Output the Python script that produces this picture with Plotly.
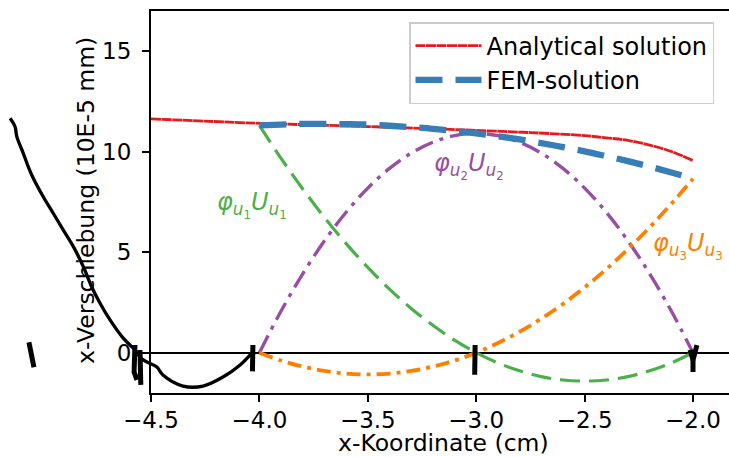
import plotly.graph_objects as go

# ---------------- data ----------------
x_analytic = [-4.5, -4.25, -4.0, -3.75, -3.5, -3.25, -3.0, -2.75, -2.5, -2.4, -2.3, -2.2, -2.1, -2.0]
y_analytic = [11.62, 11.51, 11.40, 11.32, 11.24, 11.15, 11.05, 10.94, 10.79, 10.68, 10.55, 10.32, 10.00, 9.55]

x_fem = [-4.0, -3.9, -3.8, -3.7, -3.6, -3.5, -3.4, -3.3, -3.2, -3.1, -3.0,
         -2.9, -2.8, -2.7, -2.6, -2.5, -2.4, -2.3, -2.2, -2.1, -2.0]
y_fem = [11.30, 11.34, 11.37, 11.37, 11.36, 11.34, 11.28, 11.21, 11.13, 11.02, 10.90,
         10.76, 10.60, 10.42, 10.22, 10.01, 9.77, 9.52, 9.25, 8.96, 8.65]
y_phi1 = [11.30, 9.66, 8.14, 6.72, 5.42, 4.24, 3.16, 2.20, 1.36, 0.62, 0.0,
          -0.51, -0.90, -1.19, -1.36, -1.41, -1.36, -1.19, -0.90, -0.51, 0.0]
y_phi2 = [0.0, 2.07, 3.92, 5.56, 6.98, 8.18, 9.16, 9.92, 10.46, 10.79, 10.90,
          10.79, 10.46, 9.92, 9.16, 8.18, 6.98, 5.56, 3.92, 2.07, 0.0]
y_phi3 = [0.0, -0.39, -0.69, -0.91, -1.04, -1.08, -1.04, -0.91, -0.69, -0.39, 0.0,
          0.48, 1.04, 1.69, 2.42, 3.24, 4.15, 5.15, 6.23, 7.40, 8.65]

# hand-drawn black pen stroke (in the chart's data units, extends past the axes)
sketch_x = [-5.150, -5.127, -5.119, -5.089, -5.066, -5.043, -4.997, -4.951, -4.905, -4.858,
            -4.812, -4.774, -4.735, -4.689, -4.628, -4.582, -4.536, -4.474, -4.445, -4.352,
            -4.260, -4.168, -4.089, -4.034]
sketch_y = [11.65, 11.23, 10.74, 9.91, 9.24, 8.67, 7.75, 6.93, 6.10, 5.27,
            4.27, 3.28, 2.46, 1.63, 0.72, 0.22, -0.36, -0.70, -1.11, -1.66,
            -1.66, -1.21, -0.61, -0.01]
# short pen marks
marks_x = [-4.574, -4.578, -4.565, None, -4.551, -4.547, None,
           -4.030, -4.032, None, -3.005, -3.007, None,
           -2.014, -2.000, -1.982, None, -2.000, -2.000, None, -5.063, -5.040]
marks_y = [0.38, -0.95, -1.35, None, 0.13, -1.60, None,
           0.38, -0.93, None, 0.38, -1.10, None,
           0.14, -0.37, 0.38, None, -0.37, -0.96, None, 0.52, -0.72]

x_ticks = [-4.5, -4.0, -3.5, -3.0, -2.5, -2.0]
y_ticks = [0, 5, 10, 15]

labels = [
    ("<i>φ</i><sub><i>u</i><sub>1</sub></sub><i>U</i><sub><i>u</i><sub>1</sub></sub>", -4.034, 7.34, "#4daf4a"),
    ("<i>φ</i><sub><i>u</i><sub>2</sub></sub><i>U</i><sub><i>u</i><sub>2</sub></sub>", -3.033, 9.28, "#984ea3"),
    ("<i>φ</i><sub><i>u</i><sub>3</sub></sub><i>U</i><sub><i>u</i><sub>3</sub></sub>", -2.023, 5.30, "#ff7f00"),
]

# ---------------- layout geometry ----------------
W, H = 729, 457
X_RANGE = [-4.5, -1.834]
X_DOM = [151 / W, 1.0]
Y_RANGE = [-2.0, 17.0]
Y_DOM = [(H - 392.9) / H, (H - 10.7) / H]
sx = (X_DOM[1] - X_DOM[0]) * W / (X_RANGE[1] - X_RANGE[0])
sy = (Y_DOM[1] - Y_DOM[0]) * H / (Y_RANGE[1] - Y_RANGE[0])
X_FULL = [X_RANGE[0] - X_DOM[0] * W / sx, X_RANGE[1] + (1 - X_DOM[1]) * W / sx]
Y_FULL = [Y_RANGE[0] - Y_DOM[0] * H / sy, Y_RANGE[1] + (1 - Y_DOM[1]) * H / sy]

FONT = "DejaVu Sans"

fig = go.Figure()
fig.add_trace(go.Scatter(x=x_fem, y=y_phi1, mode="lines", showlegend=False,
                         line=dict(color="#4daf4a", width=3.2, dash="20px,9px", shape="spline")))
fig.add_trace(go.Scatter(x=x_fem, y=y_phi2, mode="lines", showlegend=False,
                         line=dict(color="#984ea3", width=3.4, dash="19px,7px,4px,7px", shape="spline")))
fig.add_trace(go.Scatter(x=x_fem, y=y_phi3, mode="lines", showlegend=False,
                         line=dict(color="#ff7f00", width=3.8, dash="14px,6px,4px,6px", shape="spline")))
fig.add_trace(go.Scatter(x=x_analytic, y=y_analytic, mode="lines", name="Analytical solution",
                         line=dict(color="#e41a1c", width=2.8, dash="10px,0.5px", shape="spline")))
fig.add_trace(go.Scatter(x=x_fem, y=y_fem, mode="lines", name="FEM-solution",
                         line=dict(color="#377eb8", width=6.3, dash="27px,13px", shape="spline")))

# pen strokes on a full-figure overlay with identical data scale
fig.add_trace(go.Scatter(x=sketch_x, y=sketch_y, mode="lines", showlegend=False,
                         xaxis="x2", yaxis="y2", hoverinfo="skip",
                         line=dict(color="black", width=3.3, shape="spline")))
fig.add_trace(go.Scatter(x=marks_x, y=marks_y, mode="lines", showlegend=False,
                         xaxis="x2", yaxis="y2", hoverinfo="skip", connectgaps=False,
                         line=dict(color="black", width=5)))

for txt, lx, ly, col in labels:
    fig.add_annotation(x=lx, y=ly, xref="x", yref="y", text=txt, showarrow=False,
                       xanchor="center", yanchor="middle",
                       font=dict(family=FONT, size=24, color=col))

fig.add_annotation(x=443 / W, y=(H - 443) / H, xref="paper", yref="paper",
                   xanchor="center", yanchor="middle",
                   text="x-Koordinate (cm)", showarrow=False,
                   font=dict(family=FONT, size=23.5, color="black"))
fig.add_annotation(x=86 / W, y=(H - 201) / H, xref="paper", yref="paper",
                   xanchor="center", yanchor="middle",
                   text="x-Verschiebung (10E-5 mm)", showarrow=False, textangle=-90,
                   font=dict(family=FONT, size=23.5, color="black"))

axis_common = dict(showgrid=False, automargin=False, showline=True, linecolor="black",
                   linewidth=2, ticks="outside", ticklen=7, tickwidth=2, tickcolor="black",
                   tickfont=dict(family=FONT, size=23, color="black"))

fig.update_layout(
    width=W, height=H, autosize=False,
    margin=dict(l=0, r=0, t=0, b=0, pad=0),
    paper_bgcolor="white", plot_bgcolor="rgba(0,0,0,0)",
    font=dict(family=FONT, size=23, color="black"),
    xaxis=dict(domain=X_DOM, range=X_RANGE, tickvals=x_ticks, tickformat=".1f",
               zeroline=False, mirror=True, anchor="y", ticklabelstandoff=-2, **axis_common),
    yaxis=dict(domain=Y_DOM, range=Y_RANGE, tickvals=y_ticks,
               zeroline=True, zerolinecolor="black", zerolinewidth=2,
               mirror=False, anchor="x", ticklabelstandoff=6, **axis_common),
    xaxis2=dict(domain=[0, 1], range=X_FULL, visible=False, anchor="y2",
                fixedrange=True, automargin=False),
    yaxis2=dict(domain=[0, 1], range=Y_FULL, visible=False, anchor="x2",
                fixedrange=True, automargin=False),
    legend=dict(x=409 / W, y=(H - 22) / H, xanchor="left", yanchor="top",
                bgcolor="rgba(255,255,255,0.85)", bordercolor="#cccccc", borderwidth=1.5,
                font=dict(family=FONT, size=24, color="black"), tracegroupgap=0,
                itemwidth=66),
    showlegend=True,
)

fig.write_html(
    "out.html",
    config={"displayModeBar": False},
    post_script="document.body.style.margin='0';document.body.style.padding='0';"
                "document.body.style.overflow='hidden';",
)
